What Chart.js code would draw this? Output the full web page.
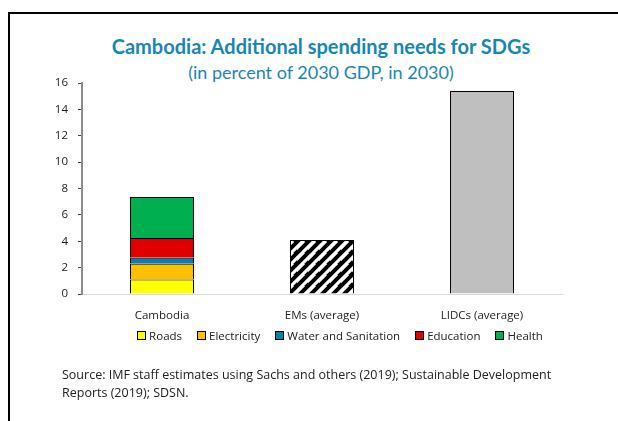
<!DOCTYPE html>
<html>
<head>
<meta charset="utf-8">
<script src="https://cdn.jsdelivr.net/npm/chart.js"></script>
<style>
	body { margin: 0; background: #fff; }
	#wrap { position: relative; width: 618px; height: 421px; overflow: hidden; }
	#frame { position: absolute; left: 8px; top: 12px; width: 620px; height: 420px; border-left: 2px solid #000; border-top: 2px solid #000; }
	#chart { position: absolute; left: 0; top: 0; }
	.title { position: absolute; left: 0; width: 642px; text-align: center; color: #1886b4; font-family: "Lato", sans-serif; }
	#t1 { top: 34px; font-size: 20px; font-weight: bold; }
	#t2 { top: 61px; font-size: 18px; }
	#legend { position: absolute; left: 100px; width: 480px; top: 328px; display: flex; justify-content: center; font-family: "Open Sans", sans-serif; font-size: 11.5px; color: #222; }
	#legend .item { display: flex; align-items: center; margin: 0 7.5px; }
	#legend .box { width: 7px; height: 7px; border: 1px solid #000; margin-right: 3px; }
	#source { position: absolute; left: 62px; top: 366px; font-family: "Open Sans", sans-serif; font-size: 12.5px; line-height: 18px; color: #222; }
</style>
</head>
<body>
<div id="wrap">
	<div id="frame"></div>
	<div class="title" id="t1">Cambodia: Additional spending needs for SDGs</div>
	<div class="title" id="t2">(in percent of 2030 GDP, in 2030)</div>
	<canvas id="chart" width="618" height="421"></canvas>
	<div id="legend"></div>
	<div id="source">Source: IMF staff estimates using Sachs and others (2019); Sustainable Development<br>Reports (2019); SDSN.</div>
</div>
<script>
// data
const categories = ["Cambodia", "EMs (average)", "LIDCs (average)"];
const components = ["Roads", "Electricity", "Water and Sanitation", "Education", "Health"];
const component_colors = ["#ffff00", "#ffc000", "#0a7fae", "#e00000", "#00b050"];
const cambodia_values = [1.1, 1.2, 0.45, 1.5, 3.1];
const ems_average = 4.1;
const lidcs_average = 15.4;
const y_ticks = [0, 2, 4, 6, 8, 10, 12, 14, 16];

function hatch_pattern() {
	let c = document.createElement("canvas");
	c.width = 11;
	c.height = 11;
	let g = c.getContext("2d");
	g.fillStyle = "#fff";
	g.fillRect(0, 0, 11, 11);
	g.strokeStyle = "#000";
	g.lineWidth = 4;
	g.beginPath();
	g.moveTo(-2, 13);
	g.lineTo(13, -2);
	g.moveTo(-6, 6);
	g.lineTo(6, -6);
	g.moveTo(5, 16);
	g.lineTo(16, 5);
	g.stroke();
	return g.createPattern(c, "repeat");
}

let datasets = [];
for (let i = 0; i < components.length; i++) {
	datasets.push({
		label: components[i],
		data: [cambodia_values[i], null, null],
		backgroundColor: component_colors[i],
		borderColor: "#000",
		borderWidth: 1,
		stack: "s",
	});
}
datasets.push({
	label: "EMs",
	data: [null, ems_average, null],
	backgroundColor: hatch_pattern(),
	borderColor: "#000",
	borderWidth: 1,
	stack: "s",
});
datasets.push({
	label: "LIDCs",
	data: [null, null, lidcs_average],
	backgroundColor: "#bfbfbf",
	borderColor: "#000",
	borderWidth: 1,
	stack: "s",
});

// legend for the components only
for (let i = 0; i < components.length; i++) {
	let html = `<div class="item"><div class="box" style="background:${component_colors[i]}"></div>${components[i]}</div>`;
	document.getElementById("legend").insertAdjacentHTML("beforeend", html);
}

const font = { family: "'Open Sans', sans-serif", size: 11.5 };

new Chart(document.getElementById("chart").getContext("2d"), {
	type: "bar",
	data: { labels: categories, datasets: datasets },
	options: {
		responsive: false,
		animation: false,
		devicePixelRatio: 1,
		barPercentage: 0.4,
		categoryPercentage: 1,
		layout: { padding: { top: 83, left: 0, right: 56, bottom: 97 } },
		plugins: {
			legend: { display: false },
			tooltip: { enabled: false },
		},
		scales: {
			x: {
				stacked: true,
				grid: { display: false },
				border: { color: "#d9d9d9", width: 1 },
				ticks: { font: font, color: "#222", padding: 7 },
				afterFit: (s) => { s.height = 30; },
			},
			y: {
				stacked: true,
				min: 0,
				max: 16,
				afterBuildTicks: (s) => { s.ticks = y_ticks.map((v) => ({ value: v })); },
				grid: { drawOnChartArea: false, tickLength: 4, tickColor: "#444" },
				border: { color: "#8c8c8c", width: 2 },
				ticks: { font: font, color: "#222", padding: 10 },
				afterFit: (s) => { s.width = 82; },
			},
		},
	},
});
</script>
</body>
</html>
